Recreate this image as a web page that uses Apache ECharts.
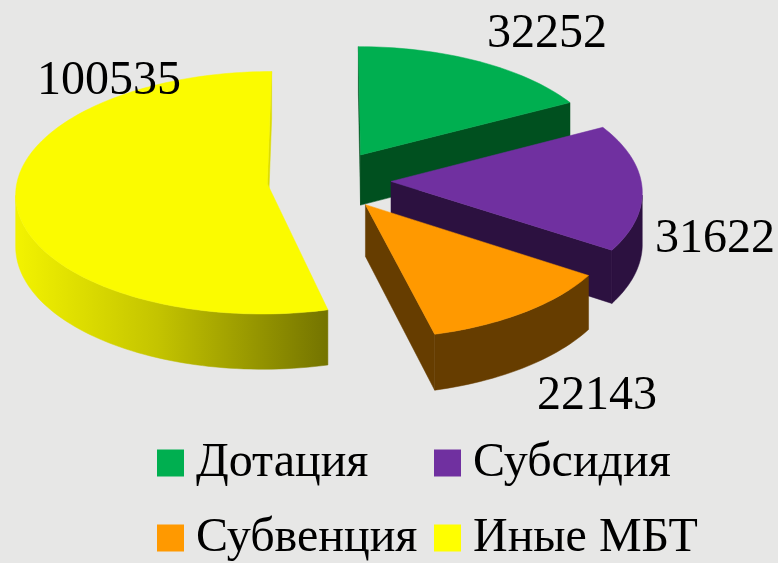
<!DOCTYPE html>
<html><head><meta charset="utf-8">
<style>html,body{margin:0;padding:0;background:#e7e7e6}#c{width:778px;height:563px}</style>
<script src="https://cdn.jsdelivr.net/npm/echarts@6/dist/echarts.min.js"></script>
</head><body><div id="c"></div>
<script>
const categories = ['Дотация', 'Субсидия', 'Иные МБТ', 'Субвенция'];
const values = [32252, 31622, 100535, 22143];
// clockwise order around the pie, starting at 12 o'clock
const pieOrder = ['Дотация', 'Субсидия', 'Субвенция', 'Иные МБТ'];
const topColors = ['#00AF50', '#7030A0', '#FBFB00', '#FF9900'];
const sideColors = ['#00501F', '#2C1140', null, '#663D00'];
const legendColors = ['#00AF50', '#7030A0', '#FFFF00', '#FF9900'];

const cx = 329, cy = 180, R = 250, k = 0.48, q = 0.0003, E = 62, H = 51;
const labelPos = [[547, 34], [715, 239], [109, 81], [597, 396]];
const rad = d => d * Math.PI / 180;
const total = values.reduce((a, b) => a + b, 0);
const angles = {};
let acc = 0;
pieOrder.forEach(n => {
  const v = values[categories.indexOf(n)];
  angles[n] = [acc / total * 360, (acc + v) / total * 360];
  acc += v;
});
const proj = (X, Y, h) => { const w = 1 + q * Y; return [cx + X / w, cy - k * Y / w + h / w]; };

function renderSlice(name, i) {
  return function (params, api) {
    const [a0, a1] = angles[name];
    const mid = rad((a0 + a1) / 2);
    const Cx = E * Math.sin(mid), Cy = E * Math.cos(mid);
    const rim = [];
    const n = Math.ceil((a1 - a0) / 1.5);
    for (let j = 0; j <= n; j++) {
      const t = rad(a0 + (a1 - a0) * j / n);
      rim.push({ X: Cx + R * Math.sin(t), Y: Cy + R * Math.cos(t), t });
    }
    const side = sideColors[i] || new echarts.graphic.LinearGradient(18, 0, 327, 0, [
      { offset: 0, color: '#F2F200' }, { offset: 0.45, color: '#C4C400' }, { offset: 1, color: '#747400' }
    ], true);
    const faceColor = sideColors[i] || '#DCDC00';
    const camY = -1 / q;
    const facing = (X, Y, nx, ny) => (0 - X) * nx + (camY - Y) * ny > 0;
    const poly = (points, fill) => ({
      type: 'polygon', shape: { points },
      style: { fill, stroke: fill, lineWidth: 0.5 }
    });
    const children = [];
    const face = (p, ang) => {
      const t = rad(ang);
      if (facing(p.X, p.Y, Math.sin(t), Math.cos(t))) {
        children.push(poly([
          proj(Cx, Cy, 0), proj(p.X, p.Y, 0), proj(p.X, p.Y, H), proj(Cx, Cy, H)
        ], faceColor));
      }
    };
    face(rim[0], a0 - 90);
    face(rim[rim.length - 1], a1 + 90);
    let run = [];
    const flush = () => {
      if (run.length > 1) {
        const up = run.map(p => proj(p.X, p.Y, 0));
        const down = run.map(p => proj(p.X, p.Y, H)).reverse();
        children.push(poly(up.concat(down), side));
      }
      run = [];
    };
    rim.forEach(p => {
      if (facing(p.X, p.Y, Math.sin(p.t), Math.cos(p.t))) run.push(p); else flush();
    });
    flush();
    children.push(poly([proj(Cx, Cy, 0)].concat(rim.map(p => proj(p.X, p.Y, 0))), topColors[i]));
    return { type: 'group', children };
  };
}

const drawOrder = ['Дотация', 'Субсидия', 'Иные МБТ', 'Субвенция'];
const series = drawOrder.map(name => {
  const i = categories.indexOf(name);
  return {
    type: 'custom', name, coordinateSystem: 'none', silent: true,
    itemStyle: { color: legendColors[i] },
    data: [[values[i]]],
    renderItem: renderSlice(name, i)
  };
});
series.push({
  type: 'custom', name: 'labels', coordinateSystem: 'none', silent: true, z: 5,
  data: values.map(v => [v]),
  renderItem: (params, api) => ({
    type: 'text',
    style: {
      text: String(api.value(0)), x: labelPos[params.dataIndex][0], y: labelPos[params.dataIndex][1],
      fill: '#000', font: '48px "Liberation Serif"', align: 'center', verticalAlign: 'middle'
    }
  })
});

const legendBase = {
  orient: 'vertical', icon: 'rect', itemWidth: 27, itemHeight: 27, itemGap: 25, padding: 0,
  top: 438, selectedMode: false,
  textStyle: { fontFamily: 'Liberation Serif', fontSize: 48, color: '#000', lineHeight: 48, padding: [2, 0, 0, 7] }
};
const chart = echarts.init(document.getElementById('c'), null, { renderer: 'canvas' });
chart.setOption({
  backgroundColor: '#e7e7e6',
  animation: false,
  legend: [
    Object.assign({}, legendBase, { left: 157, data: [categories[0], categories[3]] }),
    Object.assign({}, legendBase, { left: 434, data: [categories[1], categories[2]] })
  ],
  series
});
</script></body></html>
